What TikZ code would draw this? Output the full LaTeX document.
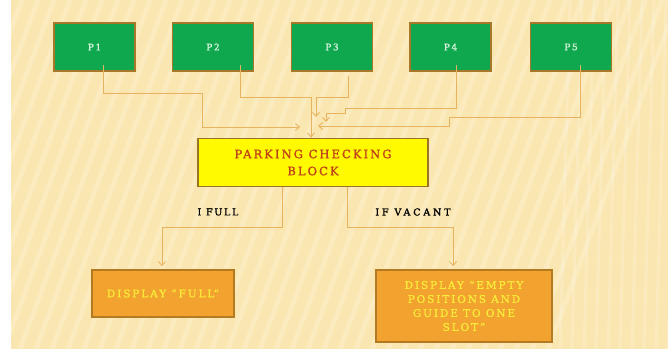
\documentclass[tikz,border=0pt]{standalone}
\usepackage{fontspec}
\setmainfont{DejaVu Serif}
\newfontfamily\slab{DejaVu Serif}[LetterSpace=18,FakeBold=1.2]
\newfontfamily\slabw{DejaVu Serif}[LetterSpace=30,FakeBold=1.2]
\usetikzlibrary{arrows.meta}
\definecolor{bgc}{HTML}{FAE6B0}
\definecolor{pgreen}{HTML}{0FA84F}
\definecolor{pborder}{HTML}{A8782A}
\definecolor{ptext}{HTML}{D8F4DC}
\definecolor{linec}{HTML}{E8B35E}
\definecolor{blkfill}{HTML}{FFFA00}
\definecolor{blkborder}{HTML}{9C7424}
\definecolor{blktext}{HTML}{C0401A}
\definecolor{orfill}{HTML}{F2A22E}
\definecolor{orborder}{HTML}{B47A22}
\definecolor{ortext}{HTML}{F8EC3A}
\tikzset{
  pbox/.style={draw=pborder, fill=pgreen, line width=1.6pt, minimum width=81pt, minimum height=48pt, inner sep=0pt, text=ptext, font=\slab\fontsize{9}{10}\selectfont},
  blkbox/.style={draw=blkborder, fill=blkfill, line width=1.8pt, minimum width=230pt, minimum height=48pt, inner sep=0pt, text=blktext, align=center, font=\slab\fontsize{11.5}{17}\selectfont},
  orbox/.style={draw=orborder, fill=orfill, line width=1.6pt, inner sep=0pt, text=ortext, align=center, font=\slab\fontsize{10.5}{14}\selectfont},
  conn/.style={draw=linec, line width=0.9pt},
  carrow/.style={conn, -{Straight Barb[length=4pt,width=7pt]}},
  lbl/.style={font=\slab\fontsize{9.5}{10}\selectfont, text=black, inner sep=0pt}
}
\begin{document}
\begin{tikzpicture}[x=1pt,y=-1pt]
\useasboundingbox (0,0) rectangle (668,349);
\fill[white] (0,0) rectangle (668,349);
\fill[bgc] (11,0) rectangle (668,349);
\begin{scope}
  \clip (11,0) rectangle (668,349);
  \foreach \i in {-300,-284,...,560} {
    \draw[white, opacity=0.2, line width=5pt] (\i,349) -- (\i+130,0);
  }
  \foreach \i in {560,572,...,668} {
    \draw[white, opacity=0.18, line width=3pt] (\i,349) -- (\i+10,0);
  }
\end{scope}

% top boxes
\node[pbox] (p1) at (94.5,47) {P1};
\node[pbox] (p2) at (213,47) {P2};
\node[pbox] (p3) at (332,47) {P3};
\node[pbox] (p4) at (450.5,47) {P4};
\node[pbox] (p5) at (571,47) {P5};

% checking block
\node[blkbox] (blk) at (313,162.5) {PARKING CHECKING\\BLOCK};

% output boxes
\node[orbox, minimum width=142pt, minimum height=47pt] (lf) at (163,293.5) {DISPLAY “FULL”};
\node[orbox, minimum width=176pt, minimum height=72pt] (rt) at (464,306) {DISPLAY “EMPTY\\POSITIONS AND\\GUIDE TO ONE\\SLOT”};

% convergence points
\coordinate (j1) at (300,127);
\coordinate (j3) at (316,117);
\coordinate (j4) at (326,122);
\coordinate (j5) at (318,126);

% connectors from P boxes
\draw[carrow] ([xshift=9pt,yshift=7pt]p1.south) |- (202,93) |- (j1);
\draw[carrow] ([xshift=27pt,yshift=7pt]p2.south) |- (311,97) -- ([xshift=-2pt]blk.north);
\draw[carrow] ([xshift=16pt,yshift=-4pt]p3.south) |- (316,97) -- (j3);
\draw[carrow] ([xshift=6pt,yshift=7pt]p4.south) |- (345,108) |- (326,113) -- (j4);
\draw[carrow] ([xshift=9pt,yshift=7pt]p5.south) |- (449,117) |- (j5);

% connectors to outputs
\draw[carrow] ([xshift=-31pt]blk.south) |- (162,227) -- ([xshift=-1pt,yshift=3pt]lf.north);
\draw[carrow] ([xshift=34pt]blk.south) |- (453,227) -- ([xshift=-11pt,yshift=3pt]rt.north);

\node[lbl] (l1) at (218,212) {I FULL};
\node[lbl, font=\slabw\fontsize{9.5}{10}\selectfont] (l2) at (413,212) {IF VACANT};
\end{tikzpicture}
\end{document}
